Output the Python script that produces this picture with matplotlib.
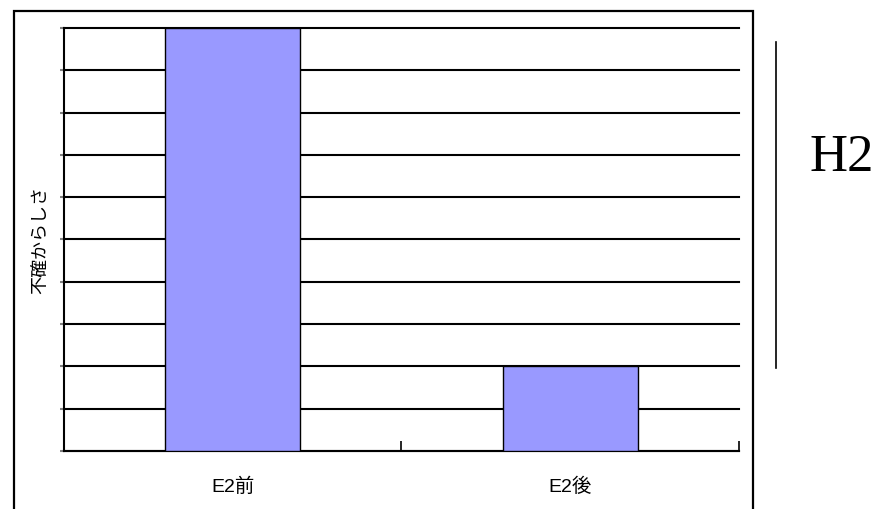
import matplotlib.pyplot as plt
from matplotlib.patches import Rectangle
from matplotlib.lines import Line2D

categories = ['E2前', 'E2後']
values = [10, 2]
y_ticks = list(range(0, 11))

plt.rcParams['font.family'] = ['Liberation Sans', 'Noto Sans CJK JP']

fig = plt.figure(figsize=(8.79, 5.09), dpi=100)
ax = fig.add_axes([64 / 879, 1 - 451 / 509, (739 - 64) / 879, (451 - 28) / 509])

x = list(range(len(categories)))
ax.bar(x, values, width=0.4, color='#9999FF', edgecolor='black', linewidth=1.0, zorder=3)

ax.set_xlim(-0.5, len(categories) - 0.5)
ax.set_ylim(0, 10)
ax.set_yticks(y_ticks)
ax.set_yticklabels([])
ax.yaxis.grid(True, color='black', linewidth=1.5, zorder=1)
for gl in ax.get_ygridlines():
    gl.set_clip_on(False)
ax.set_axisbelow(True)
ax.tick_params(axis='y', direction='out', length=3, color='#808080', width=1.5)

ax.set_xticks([i + 0.5 for i in x])
ax.set_xticklabels([])
ax.tick_params(axis='x', direction='in', length=7, width=1.2, color='black')
for i, c in enumerate(categories):
    ax.text(i, -0.85, c, ha='center', va='center', fontsize=14)

for s in ['top', 'right']:
    ax.spines[s].set_visible(False)
ax.spines['left'].set_linewidth(1.5)
ax.spines['bottom'].set_linewidth(1.5)

ax.set_ylabel('不確からしさ', fontsize=13, labelpad=4, family='Noto Sans CJK JP')

# outer frame
fig.patches.append(Rectangle((14 / 879, -0.05), (753 - 14) / 879, 1.05 - 11 / 509,
                             transform=fig.transFigure, fill=False,
                             edgecolor='black', linewidth=1.6))
fig.lines.append(Line2D([776 / 879, 776 / 879], [1 - 42 / 509, 1 - 368 / 509],
                        transform=fig.transFigure, color='black', linewidth=1.2))
fig.text(842 / 879, 1 - 158 / 509, 'H2', ha='center', va='center',
         fontsize=38, family='Liberation Serif')

fig.savefig('out.png', dpi=100)
